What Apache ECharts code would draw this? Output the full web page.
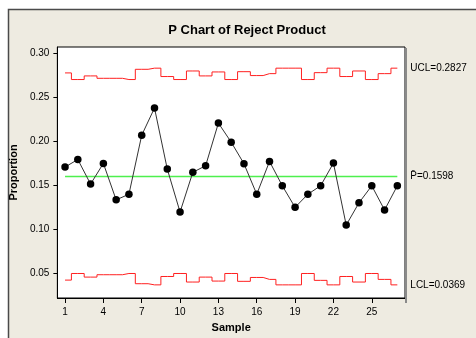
<!DOCTYPE html>
<html>
<head>
<meta charset="utf-8">
<script src="https://cdn.jsdelivr.net/npm/echarts@6/dist/echarts.min.js"></script>
<style>html,body{margin:0;padding:0;background:#fff}#c{width:476px;height:338px}</style>
</head>
<body>
<div id="c"></div>
<script>
const samples = [1,2,3,4,5,6,7,8,9,10,11,12,13,14,15,16,17,18,19,20,21,22,23,24,25,26,27];
const proportion = [0.1705,0.1791,0.1512,0.1747,0.1333,0.1397,0.2066,0.2375,0.1683,0.1195,0.1646,0.1720,0.2204,0.1988,0.1743,0.1397,0.1769,0.1493,0.1248,0.1397,0.1493,0.1750,0.1047,0.1300,0.1493,0.1218,0.1493];
const ucl = [0.2773,0.2698,0.2739,0.2712,0.2712,0.2698,0.2814,0.2827,0.2732,0.2698,0.2795,0.2739,0.2784,0.2698,0.2787,0.2743,0.2765,0.2827,0.2827,0.2698,0.2776,0.2827,0.2732,0.2795,0.2698,0.2765,0.2827];
const lcl = [0.0423,0.0498,0.0457,0.0484,0.0484,0.0498,0.0382,0.0369,0.0464,0.0498,0.0401,0.0457,0.0412,0.0498,0.0409,0.0453,0.0431,0.0369,0.0369,0.0498,0.0420,0.0369,0.0464,0.0401,0.0498,0.0431,0.0369];
const pBar = 0.1598;
const yTicks = [0.05,0.10,0.15,0.20,0.25,0.30];
const xTicks = [1,4,7,10,13,16,19,22,25];
const titleText = 'P Chart of Reject Product';
const uclLabel = 'UCL=0.2827';
const pLabel = 'P\u0304=0.1598';
const lclLabel = 'LCL=0.0369';

const font = 'Liberation Sans';
const chart = echarts.init(document.getElementById('c'), null, {renderer:'canvas'});
const pair = arr => samples.map((s,i)=>[s,arr[i]]);
chart.setOption({
  animation:false,
  backgroundColor:'#ffffff',
  graphic:[
    {type:'rect', z:-100, shape:{x:8.5,y:9.5,width:500,height:360}, style:{fill:'#EEEBE1', stroke:'#4a4a4a', lineWidth:1.5}},
    {type:'line', z:100, shape:{x1:406,y1:48,x2:406,y2:303}, style:{stroke:'#8a8a8a', lineWidth:2}}
  ],
  title:{text:titleText, left:242, top:19, textAlign:'center',
    textStyle:{fontFamily:font, fontSize:13, fontWeight:'bold', color:'#000'}},
  grid:{left:57, top:47, right:71, bottom:36, show:true, backgroundColor:'#fff', borderColor:'#000', borderWidth:1},
  xAxis:{type:'value', min:0.4, max:27.6, name:'Sample', nameLocation:'middle', nameGap:24,
    nameTextStyle:{fontFamily:font, fontSize:11, fontWeight:'bold', color:'#000'},
    axisLine:{show:true, onZero:false, lineStyle:{color:'#000'}},
    axisTick:{show:true, length:5, customValues:xTicks, lineStyle:{color:'#000'}},
    axisLabel:{customValues:xTicks, margin:9, fontFamily:font, fontSize:10, color:'#000'},
    splitLine:{show:false}},
  yAxis:{type:'value', min:0.022, max:0.3067, name:'Proportion', nameLocation:'middle', nameGap:36,
    nameTextStyle:{fontFamily:font, fontSize:11, fontWeight:'bold', color:'#000'},
    axisLine:{show:true, lineStyle:{color:'#000'}},
    axisTick:{show:true, length:4, customValues:yTicks, lineStyle:{color:'#000'}},
    axisLabel:{customValues:yTicks, margin:8, fontFamily:font, fontSize:10, color:'#000',
      formatter:v=>v.toFixed(2)},
    splitLine:{show:false}},
  series:[
    {type:'line', data:pair(ucl), step:'middle', symbol:'none', lineStyle:{color:'#ff2020', width:1},
      endLabel:{show:true, formatter:uclLabel, distance:13, fontFamily:font, fontSize:10, color:'#000'}},
    {type:'line', data:pair(lcl), step:'middle', symbol:'none', lineStyle:{color:'#ff2020', width:1},
      endLabel:{show:true, formatter:lclLabel, distance:13, fontFamily:font, fontSize:10, color:'#000'}},
    {type:'line', data:samples.map(s=>[s,pBar]), symbol:'none', lineStyle:{color:'#4ef04e', width:1.3},
      endLabel:{show:true, formatter:pLabel, distance:13, fontFamily:font, fontSize:10, color:'#000'}},
    {type:'line', data:pair(proportion), symbol:'circle', symbolSize:7.5,
      itemStyle:{color:'#000'}, lineStyle:{color:'#333', width:1}, z:5}
  ]
});
</script>
</body>
</html>
